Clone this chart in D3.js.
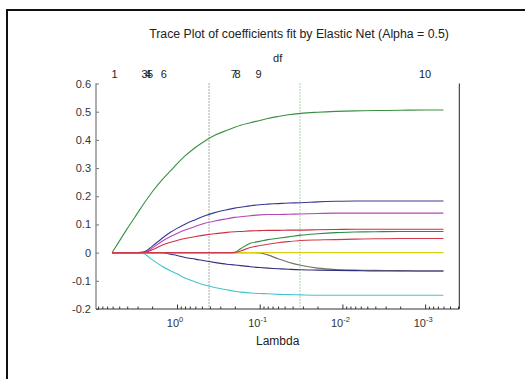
<!DOCTYPE html>
<html>
<head>
<meta charset="utf-8">
<script src="https://cdn.jsdelivr.net/npm/d3@7"></script>
<style>
  body { margin: 0; background: #fff; }
  text { font-family: "Liberation Sans", Arial, sans-serif; fill: #222; }
</style>
</head>
<body>
<div id="chart-area"></div>
<script>
// lambda grid (x) and the coefficient traces
let lambda = [6.1, 5, 4, 3, 2.5, 2.0, 1.5, 1.2, 1.0, 0.8, 0.6, 0.45, 0.35, 0.25, 0.2,
  0.17, 0.13, 0.1, 0.08, 0.06, 0.045, 0.032, 0.02, 0.012, 0.007, 0.004, 0.002, 0.001, 0.0006]

let coefA = [0, 0.04, 0.085, 0.14, 0.175, 0.215, 0.26, 0.29, 0.315, 0.343, 0.373, 0.398, 0.416, 0.434, 0.445,
  0.452, 0.461, 0.469, 0.476, 0.483, 0.489, 0.494, 0.498, 0.501, 0.503, 0.504, 0.505, 0.506, 0.506]
let coefB = [0, 0, 0, 0, 0.003, 0.022, 0.052, 0.072, 0.086, 0.101, 0.117, 0.132, 0.142, 0.152, 0.158,
  0.161, 0.166, 0.17, 0.172, 0.174, 0.176, 0.177, 0.180, 0.182, 0.183, 0.183, 0.183, 0.183, 0.183]
let coefC = [0, 0, 0, 0, 0, 0.016, 0.041, 0.057, 0.068, 0.080, 0.093, 0.105, 0.112, 0.12, 0.125,
  0.127, 0.131, 0.134, 0.135, 0.135, 0.136, 0.137, 0.139, 0.14, 0.14, 0.14, 0.14, 0.14, 0.14]
let coefD = [0, 0, 0, 0, 0, 0.01, 0.027, 0.037, 0.043, 0.05, 0.057, 0.063, 0.067, 0.072, 0.074,
  0.075, 0.077, 0.078, 0.079, 0.079, 0.08, 0.08, 0.081, 0.082, 0.083, 0.083, 0.083, 0.083, 0.083]
let coefE = [0, 0, 0, 0, -0.004, -0.025, -0.049, -0.064, -0.075, -0.09, -0.104, -0.116, -0.124, -0.132, -0.137,
  -0.14, -0.143, -0.145, -0.146, -0.148, -0.149, -0.150, -0.151, -0.151, -0.151, -0.151, -0.151, -0.151, -0.151]
let coefF = [0, 0, 0, 0, 0, 0, 0, -0.006, -0.01, -0.017, -0.023, -0.030, -0.035, -0.041, -0.044,
  -0.046, -0.05, -0.053, -0.055, -0.057, -0.059, -0.061, -0.062, -0.063, -0.064, -0.065, -0.065, -0.065, -0.065]
let coefG = [0, 0, 0, 0, 0, 0, 0, 0, 0, 0, 0, 0, 0, 0, 0.001,
  0.014, 0.033, 0.040, 0.046, 0.051, 0.056, 0.062, 0.067, 0.071, 0.073, 0.074, 0.075, 0.075, 0.075]
let coefH = [0, 0, 0, 0, 0, 0, 0, 0, 0, 0, 0, 0, 0, 0, 0,
  0.006, 0.018, 0.025, 0.030, 0.035, 0.039, 0.043, 0.045, 0.046, 0.048, 0.049, 0.05, 0.05, 0.05]
let coefI = [0, 0, 0, 0, 0, 0, 0, 0, 0, 0, 0, 0, 0, 0, 0,
  0, 0, -0.001, -0.008, -0.022, -0.034, -0.045, -0.055, -0.06, -0.062, -0.063, -0.064, -0.065, -0.065]
let coefJ = [0, 0, 0, 0, 0, 0, 0, 0, 0, 0, 0, 0, 0, 0, 0,
  0, 0, 0, 0, 0, 0, 0, 0, 0, 0, 0, 0, 0, 0]

// degrees of freedom labels along the top
let dfLabels = ["1", "3", "4", "5", "6", "7", "8", "9", "10"]
let dfLambda = [5.7, 2.47, 2.24, 2.12, 1.44, 0.205, 0.185, 0.1035, 0.001]

let yTicks = [-0.2, -0.1, 0, 0.1, 0.2, 0.3, 0.4, 0.5, 0.6]
let yTickLabels = ["-0.2", "-0.1", "0", "0.1", "0.2", "0.3", "0.4", "0.5", "0.6"]
let xMajorTicks = [1, 0.1, 0.01, 0.001]
let xTickExp = ["0", "-1", "-2", "-3"]

// vertical reference lambdas (dotted)
let refLambda = [0.41, 0.0326]

let width = 525
let height = 379
let margin = {top: 83.5, right: 65.7, bottom: 70, left: 96}

let svg = d3.select("#chart-area").append("svg")
  .attr("width", width)
  .attr("height", height)

// outer frame (left and top only visible)
svg.append("path")
  .attr("d", "M7,379 L7,10 L525,10")
  .attr("fill", "none")
  .attr("stroke", "#111")
  .attr("stroke-width", 2)

let x = d3.scaleLog()
  .domain([9.54, 3.86e-4])
  .range([margin.left, width - margin.right])

let y = d3.scaleLinear()
  .domain([-0.2, 0.6])
  .range([height - margin.bottom, margin.top])

let x0 = margin.left, x1 = width - margin.right
let yTop = margin.top, yBot = height - margin.bottom

// dotted reference lines
let refColors = ["#555", "#5a5"]
svg.selectAll(".ref").data(refLambda).enter().append("line")
  .attr("x1", d => x(d)).attr("x2", d => x(d))
  .attr("y1", yTop).attr("y2", yBot)
  .attr("stroke", (d, i) => refColors[i])
  .attr("stroke-width", 1)
  .attr("stroke-dasharray", "1,2")

// traces
let traces = [
  {v: coefI, c: "#707064"},
  {v: coefF, c: "#30307f"},
  {v: coefE, c: "#44c4cc"},
  {v: coefB, c: "#3a3a92"},
  {v: coefC, c: "#b845b8"},
  {v: coefD, c: "#cc3044"},
  {v: coefA, c: "#3a9040"},
  {v: coefJ, c: "#d8d010"},
  {v: coefG, c: "#2f8a40"},
  {v: coefH, c: "#d03a48"}
]

let line = d3.line()
  .curve(d3.curveMonotoneX)
  .x((d, i) => x(lambda[i]))
  .y(d => y(d))

svg.selectAll(".trace").data(traces).enter().append("path")
  .attr("d", d => line(d.v))
  .attr("fill", "none")
  .attr("stroke", d => d.c)
  .attr("stroke-width", 1.1)

// y axis (ticks pointing inward)
let yAxis = svg.append("g")
  .attr("transform", "translate(" + x0 + ",0)")
  .call(d3.axisLeft(y).tickValues(yTicks).tickSize(-3).tickPadding(5)
    .tickFormat((d, i) => yTickLabels[i]))
yAxis.select(".domain").remove()
yAxis.selectAll("line").attr("stroke", "#777")
yAxis.selectAll("text").attr("font-size", "11px").style("fill", "#333")

svg.append("line")
  .attr("x1", x0).attr("x2", x0).attr("y1", yTop).attr("y2", yBot)
  .attr("stroke", "#777").attr("stroke-width", 1.2)

svg.append("line")
  .attr("x1", x1).attr("x2", x1).attr("y1", yTop).attr("y2", yBot)
  .attr("stroke", "#222").attr("stroke-width", 1)

// x axis minor ticks
let minor = []
for (let k = 1; k >= -4; k--) {
  for (let m = 2; m <= 9; m++) {
    let v = m * Math.pow(10, k)
    if (v < 9.54 && v > 3.86e-4) minor.push(v)
  }
}
let xMinor = svg.append("g")
  .attr("transform", "translate(0," + yBot + ")")
  .call(d3.axisBottom(x).tickValues(minor).tickSize(-2.5).tickFormat(""))
xMinor.select(".domain").remove()
xMinor.selectAll("line").attr("stroke", "#333")

let xMajor = svg.append("g")
  .attr("transform", "translate(0," + yBot + ")")
  .call(d3.axisBottom(x).tickValues(xMajorTicks).tickSize(-4.5).tickFormat(""))
xMajor.select(".domain").remove()
xMajor.selectAll("line").attr("stroke", "#333")

svg.append("line")
  .attr("x1", x0).attr("x2", x1).attr("y1", yBot).attr("y2", yBot)
  .attr("stroke", "#333").attr("stroke-width", 1.2)

// decade labels 10^k
let xl = svg.selectAll(".xlab").data(xMajorTicks).enter().append("text")
  .attr("x", d => x(d) - 2)
  .attr("y", yBot + 18)
  .attr("text-anchor", "middle")
  .attr("font-size", "11px")
  .style("fill", "#333")
xl.append("tspan").text("10")
xl.append("tspan")
  .attr("dy", -5)
  .attr("font-size", "7.5px")
  .text((d, i) => xTickExp[i])

svg.append("text")
  .attr("x", (x0 + x1) / 2)
  .attr("y", yBot + 36)
  .attr("text-anchor", "middle")
  .attr("font-size", "12px")
  .text("Lambda")

// df labels
svg.selectAll(".df").data(dfLabels).enter().append("text")
  .attr("x", (d, i) => x(dfLambda[i]))
  .attr("y", 78)
  .attr("text-anchor", "middle")
  .attr("font-size", "11px")
  .text(d => d)

svg.append("text")
  .attr("x", (x0 + x1) / 2)
  .attr("y", 62)
  .attr("text-anchor", "middle")
  .attr("font-size", "11px")
  .text("df")

// title
svg.append("text")
  .attr("x", 299)
  .attr("y", 38)
  .attr("text-anchor", "middle")
  .attr("font-size", "12.3px")
  .text("Trace Plot of coefficients fit by Elastic Net (Alpha = 0.5)")
</script>
</body>
</html>
